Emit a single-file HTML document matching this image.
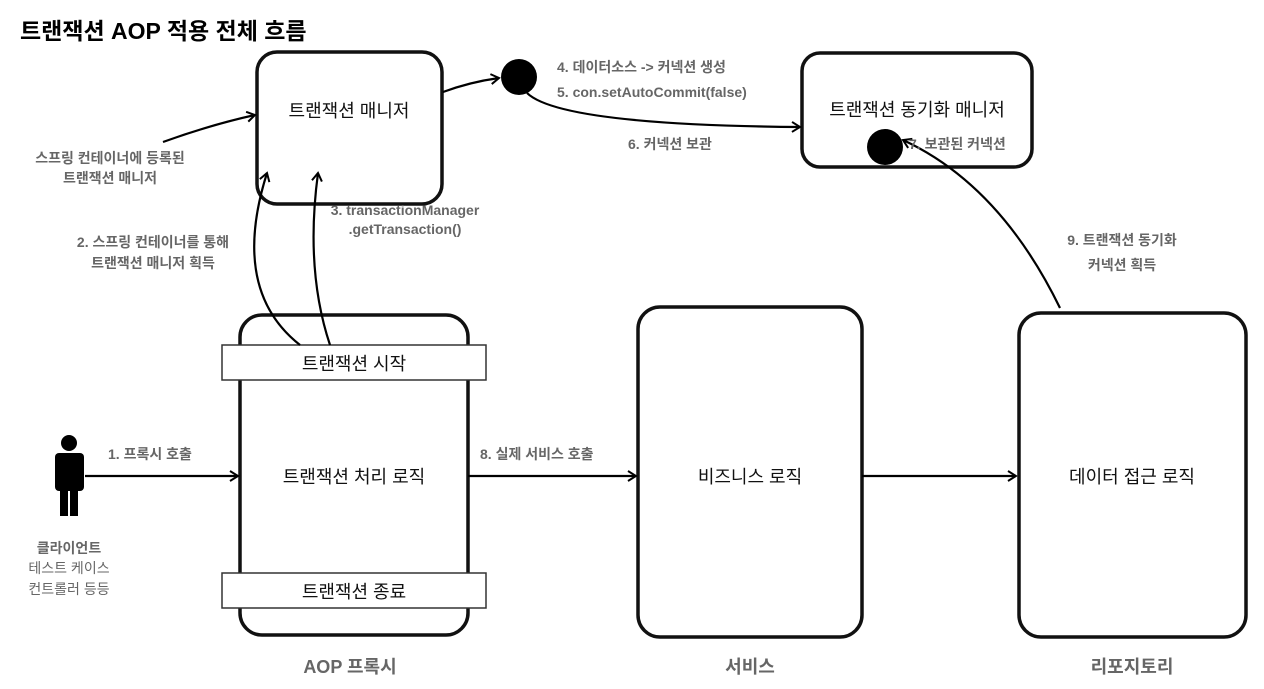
<!DOCTYPE html>
<html><head><meta charset="utf-8"><style>
html,body{margin:0;padding:0;background:#fff;}
svg{display:block;}
text{font-family:"Liberation Sans","Noto Sans CJK KR",sans-serif;}
.g{fill:#666;font-size:14px;font-weight:bold;}
.b{fill:#111;font-size:18px;}
</style></head><body>
<svg width="1264" height="689" viewBox="0 0 1264 689" xmlns="http://www.w3.org/2000/svg">
<defs><marker id="a" markerWidth="12" markerHeight="12" refX="9" refY="6" orient="auto" markerUnits="userSpaceOnUse"><path d="M1,1 L9,6 L1,11" fill="none" stroke="#000" stroke-width="2"/></marker></defs>
<text x="20" y="39" style="font-size:23px;font-weight:bold;fill:#000">트랜잭션 AOP 적용 전체 흐름</text>
<g fill="none" stroke="#111" stroke-width="3.5">
<rect x="257" y="52" width="185" height="152" rx="20"/>
<rect x="802" y="53" width="230" height="114" rx="18"/>
<rect x="240" y="315" width="228" height="320" rx="22"/>
<rect x="638" y="307" width="224" height="330" rx="22"/>
<rect x="1019" y="313" width="227" height="324" rx="22"/>
</g>
<rect x="222" y="345" width="264" height="35" fill="#fff" stroke="#333" stroke-width="1.5"/>
<rect x="222" y="573" width="264" height="35" fill="#fff" stroke="#333" stroke-width="1.5"/>
<text class="b" x="354" y="370" text-anchor="middle">트랜잭션 시작</text>
<text class="b" x="354" y="598" text-anchor="middle">트랜잭션 종료</text>
<text class="b" x="349" y="117" text-anchor="middle">트랜잭션 매니저</text>
<text class="b" x="917" y="116" text-anchor="middle">트랜잭션 동기화 매니저</text>
<text class="b" x="354" y="483" text-anchor="middle">트랜잭션 처리 로직</text>
<text class="b" x="750" y="483" text-anchor="middle">비즈니스 로직</text>
<text class="b" x="1132" y="483" text-anchor="middle">데이터 접근 로직</text>
<circle cx="519" cy="77" r="18" fill="#000"/>
<circle cx="885" cy="147" r="18" fill="#000"/>
<g fill="none" stroke="#000" stroke-width="2.2" marker-end="url(#a)">
<path d="M443,92 Q470,82 499,78"/>
<path d="M527,93 Q560,125 800,127"/>
<path d="M1060,308 Q1000,185 903,140"/>
<path d="M300,345 Q230,290 267,173"/>
<path d="M330,345 Q305,270 318,173"/>
<path d="M163,142 Q210,125 255,115"/>
<path d="M85,476 L238,476"/>
<path d="M468,476 L636,476"/>
<path d="M862,476 L1016,476"/>
</g>
<g fill="#000">
<circle cx="69" cy="443" r="8"/>
<rect x="55" y="453" width="29" height="38" rx="4"/>
<rect x="60" y="488" width="8" height="28"/>
<rect x="70" y="488" width="8" height="28"/>
</g>
<g class="g">
<text x="557" y="72">4. 데이터소스 -&gt; 커넥션 생성</text>
<text x="557" y="97">5. con.setAutoCommit(false)</text>
<text x="628" y="149">6. 커넥션 보관</text>
<text x="909" y="149">7. 보관된 커넥션</text>
<text x="1122" y="245" text-anchor="middle">9. 트랜잭션 동기화</text>
<text x="1122" y="270" text-anchor="middle">커넥션 획득</text>
<text x="110" y="163" text-anchor="middle">스프링 컨테이너에 등록된</text>
<text x="110" y="183" text-anchor="middle">트랜잭션 매니저</text>
<text x="153" y="247" text-anchor="middle">2. 스프링 컨테이너를 통해</text>
<text x="153" y="268" text-anchor="middle">트랜잭션 매니저 획득</text>
<text x="405" y="215" text-anchor="middle">3. transactionManager</text>
<text x="405" y="234" text-anchor="middle">.getTransaction()</text>
<text x="108" y="459">1. 프록시 호출</text>
<text x="480" y="459">8. 실제 서비스 호출</text>
<text x="69" y="553" text-anchor="middle" style="font-size:14px">클라이언트</text>
<text x="69" y="573" text-anchor="middle" style="font-weight:normal">테스트 케이스</text>
<text x="69" y="594" text-anchor="middle" style="font-weight:normal">컨트롤러 등등</text>
<text x="350" y="673" text-anchor="middle" style="font-size:18px">AOP 프록시</text>
<text x="750" y="673" text-anchor="middle" style="font-size:18px">서비스</text>
<text x="1132" y="673" text-anchor="middle" style="font-size:18px">리포지토리</text>
</g>
</svg>
</body></html>
